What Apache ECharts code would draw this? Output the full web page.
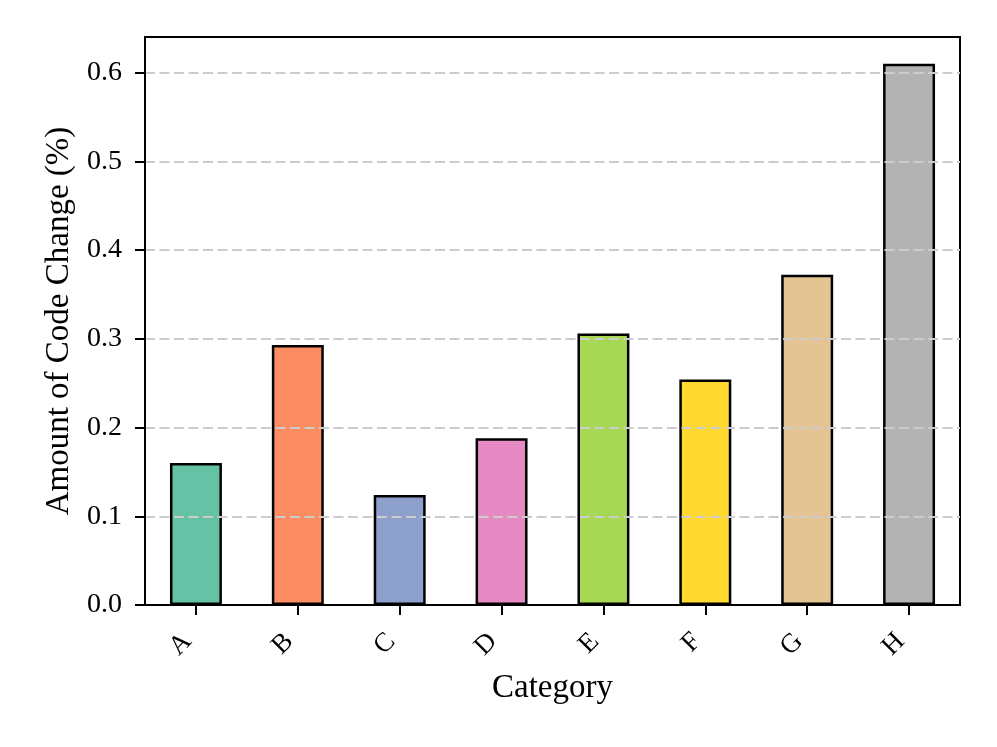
<!DOCTYPE html>
<html>
<head>
<meta charset="utf-8">
<script src="https://cdn.jsdelivr.net/npm/echarts@6/dist/echarts.min.js"></script>
<style>
  html, body { margin: 0; padding: 0; background: #fff; }
  #chart { width: 997px; height: 747px; }
</style>
</head>
<body>
<div id="chart"></div>
<script>
// data
var categories = ['A', 'B', 'C', 'D', 'E', 'F', 'G', 'H'];
var values = [0.160, 0.293, 0.124, 0.188, 0.306, 0.254, 0.372, 0.610];
var colors = ['#66c2a5', '#fc8d62', '#8da0cb', '#e78ac3', '#a6d854', '#ffd92f', '#e5c494', '#b3b3b3'];
var yTicks = [0, 0.1, 0.2, 0.3, 0.4, 0.5, 0.6];

var font = 'Liberation Serif';
var myChart = echarts.init(document.getElementById('chart'));

var option = {
    animation: false,
    grid: {
        left: 145, right: 37, top: 37, bottom: 142,
        show: true, borderColor: '#000', borderWidth: 2
    },
    xAxis: {
        type: 'category',
        data: categories,
        name: 'Category',
        nameLocation: 'middle',
        nameGap: 67,
        nameTextStyle: { fontFamily: font, fontSize: 33, color: '#000' },
        axisLine: { lineStyle: { color: '#000', width: 2 } },
        axisTick: { show: true, alignWithLabel: true, length: 10, lineStyle: { color: '#000', width: 2 } },
        axisLabel: {
            rotate: 45, margin: 24, padding: [0, 12, 0, 0],
            fontFamily: font, fontSize: 27, color: '#000'
        }
    },
    yAxis: {
        type: 'value',
        min: 0,
        max: 0.64,
        interval: 0.1,
        z: 3,
        name: 'Amount of Code Change (%)',
        nameLocation: 'middle',
        nameGap: 68,
        nameTextStyle: { fontFamily: font, fontSize: 33, color: '#000' },
        axisLine: { show: true, lineStyle: { color: '#000', width: 2 } },
        axisTick: { show: true, length: 10, customValues: yTicks, lineStyle: { color: '#000', width: 2 } },
        axisLabel: {
            customValues: yTicks,
            margin: 23,
            fontFamily: font, fontSize: 28, color: '#000',
            formatter: function (v) { return v.toFixed(1); }
        },
        splitLine: {
            showMinLine: false,
            lineStyle: { color: '#cccccc', width: 2, type: [10, 4.5] }
        }
    },
    series: [{
        type: 'bar',
        barWidth: '51%',
        data: values.map(function (v, i) {
            return { value: v, itemStyle: { color: colors[i] } };
        }),
        itemStyle: { borderColor: '#000', borderWidth: 2.5 }
    }]
};
myChart.setOption(option);
</script>
</body>
</html>
